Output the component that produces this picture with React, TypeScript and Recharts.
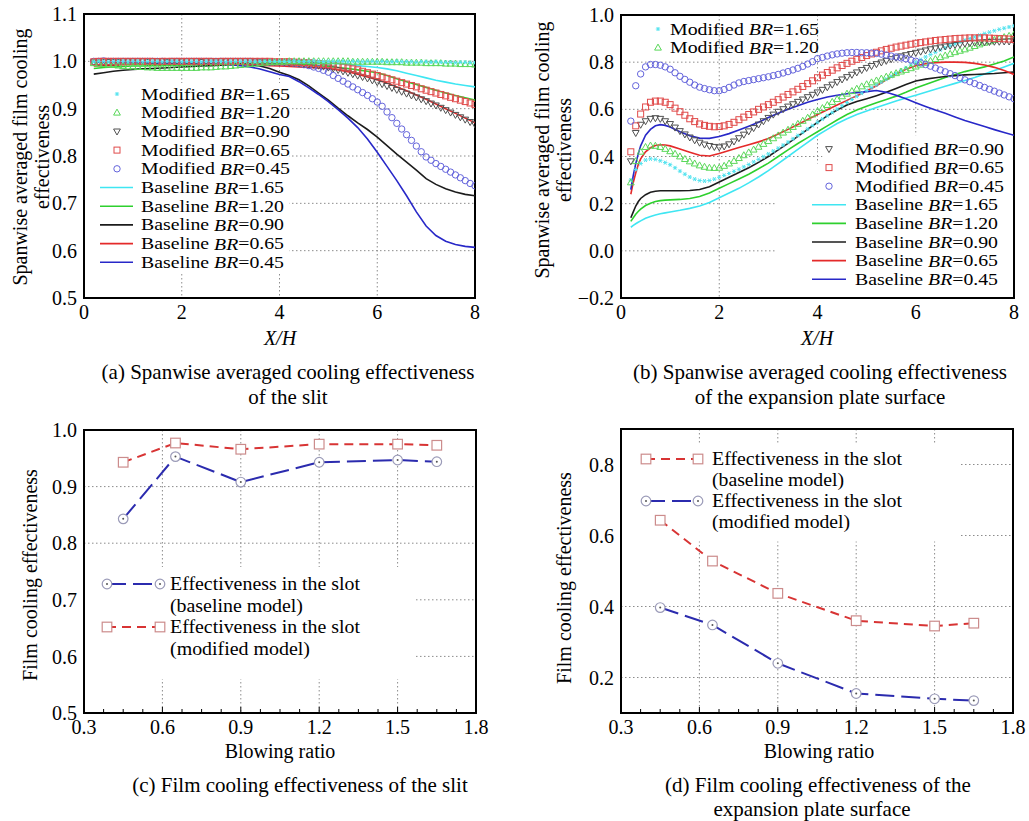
import React from 'react';
import { ComposedChart, Line, XAxis, YAxis, CartesianGrid, ReferenceArea } from 'recharts';

const FONT = '"Liberation Serif", "Times New Roman", serif';

// ---- panels (a) and (b): X/H sample positions
const modX = [
  0.2, 0.3, 0.4, 0.5, 0.6, 0.7, 0.8, 0.9, 1.0,
  1.1, 1.2, 1.3, 1.4, 1.5, 1.6, 1.7, 1.8, 1.9, 2.0,
  2.1, 2.2, 2.3, 2.4, 2.5, 2.6, 2.7, 2.8, 2.9, 3.0,
  3.1, 3.2, 3.3, 3.4, 3.5, 3.6, 3.7, 3.8, 3.9, 4.0,
  4.1, 4.2, 4.3, 4.4, 4.5, 4.6, 4.7, 4.8, 4.9, 5.0,
  5.1, 5.2, 5.3, 5.4, 5.5, 5.6, 5.7, 5.8, 5.9, 6.0,
  6.1, 6.2, 6.3, 6.4, 6.5, 6.6, 6.7, 6.8, 6.9, 7.0,
  7.1, 7.2, 7.3, 7.4, 7.5, 7.6, 7.7, 7.8, 7.9, 8.0,
];
const aLineX = [
  0.2, 0.4, 0.6, 0.8, 1.0, 1.2, 1.4, 1.6, 1.8, 2.0,
  2.2, 2.4, 2.6, 2.8, 3.0, 3.2, 3.4, 3.6, 3.8, 4.0,
  4.2, 4.4, 4.6, 4.8, 5.0, 5.2, 5.4, 5.6, 5.8, 6.0,
  6.2, 6.4, 6.6, 6.8, 7.0, 7.2, 7.4, 7.6, 7.8, 8.0,
];
const bLineX = [
  0.2, 0.25, 0.3, 0.35, 0.4, 0.5, 0.6, 0.7, 0.8, 0.9, 1.0,
  1.2, 1.4, 1.6, 1.8, 2.0, 2.2, 2.4, 2.6, 2.8, 3.0,
  3.2, 3.4, 3.6, 3.8, 4.0, 4.2, 4.4, 4.6, 4.8, 5.0,
  5.2, 5.4, 5.6, 5.8, 6.0, 6.2, 6.4, 6.6, 6.8, 7.0,
  7.2, 7.4, 7.6, 7.8, 8.0,
];

// (a) slit, modified model (markers)
const aMod165 = [
  0.999, 1.0, 1.0, 0.999, 1.0, 1.0, 1.0, 0.999, 1.0,
  1.0, 0.999, 1.0, 1.0, 1.0, 0.999, 1.0, 1.0, 1.0, 0.999,
  1.0, 1.0, 1.0, 0.999, 1.0, 1.0, 1.0, 1.0, 0.999, 1.0,
  1.0, 1.0, 1.0, 1.0, 0.999, 1.0, 1.0, 1.0, 1.0, 1.0,
  1.0, 1.0, 1.001, 1.0, 1.0, 1.0, 1.001, 1.0, 1.0, 1.0,
  1.0, 1.0, 1.0, 0.999, 1.0, 1.0, 0.999, 1.0, 1.0, 0.999,
  1.0, 0.999, 0.999, 1.0, 0.999, 0.999, 0.999, 0.998, 0.999, 0.999,
  0.998, 0.999, 0.998, 0.998, 0.998, 0.997, 0.998, 0.998, 0.997, 0.997,
];
const aMod120 = [
  0.996, 0.995, 0.994, 0.993, 0.992, 0.991, 0.990, 0.989, 0.989,
  0.988, 0.988, 0.987, 0.987, 0.986, 0.986, 0.986, 0.986, 0.986, 0.986,
  0.986, 0.986, 0.986, 0.987, 0.987, 0.987, 0.988, 0.989, 0.989, 0.990,
  0.991, 0.992, 0.993, 0.994, 0.995, 0.996, 0.997, 0.998, 0.998, 0.999,
  0.999, 1.0, 1.0, 1.0, 1.0, 1.0, 1.0, 1.0, 1.0, 1.0,
  1.0, 1.0, 1.0, 1.0, 0.999, 0.999, 0.999, 0.999, 0.999, 0.999,
  0.999, 0.998, 0.998, 0.998, 0.998, 0.997, 0.997, 0.997, 0.997, 0.996,
  0.996, 0.996, 0.996, 0.995, 0.995, 0.995, 0.994, 0.994, 0.994, 0.993,
];
const aMod090 = [
  0.998, 0.998, 0.999, 0.999, 0.999, 0.999, 1.0, 1.0, 1.0,
  1.0, 1.0, 0.999, 1.0, 1.0, 1.0, 0.999, 1.0, 1.0, 1.0,
  1.0, 1.0, 1.0, 0.999, 1.0, 1.0, 1.0, 1.0, 1.0, 1.0,
  1.0, 1.0, 1.0, 1.0, 1.0, 0.999, 0.999, 0.999, 0.998, 0.998,
  0.998, 0.997, 0.997, 0.996, 0.995, 0.994, 0.993, 0.991, 0.989, 0.987,
  0.985, 0.982, 0.979, 0.976, 0.973, 0.970, 0.967, 0.964, 0.960, 0.956,
  0.952, 0.948, 0.944, 0.940, 0.936, 0.932, 0.928, 0.924, 0.920, 0.916,
  0.911, 0.907, 0.902, 0.897, 0.892, 0.887, 0.882, 0.877, 0.872, 0.867,
];
const aMod065 = [
  0.999, 1.0, 1.0, 1.0, 1.0, 1.0, 1.0, 1.0, 1.0,
  1.0, 1.0, 1.0, 1.0, 0.999, 1.0, 1.0, 1.0, 1.0, 1.0,
  1.0, 1.0, 1.0, 1.0, 1.0, 1.0, 0.999, 1.0, 1.0, 1.0,
  1.0, 1.0, 1.0, 1.0, 1.0, 1.0, 1.0, 1.0, 0.999, 0.999,
  0.999, 0.999, 0.998, 0.998, 0.997, 0.997, 0.996, 0.995, 0.994, 0.993,
  0.992, 0.990, 0.988, 0.986, 0.984, 0.982, 0.979, 0.976, 0.973, 0.970,
  0.967, 0.964, 0.961, 0.958, 0.955, 0.952, 0.949, 0.946, 0.942, 0.939,
  0.936, 0.933, 0.930, 0.927, 0.924, 0.921, 0.918, 0.915, 0.912, 0.909,
];
const aMod045 = [
  1.0, 1.0, 1.001, 1.0, 1.0, 1.0, 1.0, 1.0, 1.0,
  1.0, 1.0, 1.0, 1.0, 1.0, 1.0, 0.999, 1.0, 1.0, 1.0,
  1.0, 1.0, 1.0, 1.0, 1.0, 1.0, 1.0, 1.0, 1.0, 1.0,
  1.0, 1.0, 1.0, 1.0, 0.999, 0.999, 0.999, 0.998, 0.998, 0.998,
  0.997, 0.997, 0.996, 0.995, 0.993, 0.991, 0.988, 0.985, 0.981, 0.977,
  0.970, 0.964, 0.958, 0.952, 0.946, 0.940, 0.934, 0.928, 0.921, 0.914,
  0.905, 0.893, 0.881, 0.869, 0.857, 0.845, 0.833, 0.821, 0.809, 0.798,
  0.791, 0.784, 0.778, 0.772, 0.766, 0.760, 0.754, 0.748, 0.742, 0.737,
];
// (a) slit, baseline model (lines)
const aBase165 = [
  0.998, 0.998, 0.997, 0.997, 0.997, 0.998, 0.998, 0.998, 0.998, 0.998,
  0.998, 0.999, 0.999, 0.999, 0.999, 0.999, 0.999, 0.999, 0.999, 0.999,
  0.999, 0.998, 0.998, 0.997, 0.996, 0.995, 0.993, 0.991, 0.989, 0.987,
  0.984, 0.980, 0.975, 0.970, 0.965, 0.960, 0.956, 0.952, 0.949, 0.946,
];
const aBase120 = [
  0.985, 0.987, 0.988, 0.989, 0.990, 0.990, 0.991, 0.991, 0.992, 0.992,
  0.993, 0.993, 0.994, 0.994, 0.995, 0.995, 0.996, 0.996, 0.996, 0.996,
  0.995, 0.994, 0.993, 0.991, 0.989, 0.987, 0.985, 0.982, 0.979, 0.976,
  0.970, 0.963, 0.957, 0.951, 0.945, 0.939, 0.933, 0.928, 0.923, 0.918,
];
const aBase090 = [
  0.973, 0.976, 0.979, 0.981, 0.983, 0.984, 0.985, 0.986, 0.987, 0.988,
  0.989, 0.990, 0.991, 0.992, 0.993, 0.994, 0.993, 0.990, 0.985, 0.977,
  0.970, 0.961, 0.948, 0.933, 0.918, 0.901, 0.885, 0.870, 0.856, 0.840,
  0.822, 0.804, 0.787, 0.770, 0.752, 0.740, 0.731, 0.724, 0.719, 0.716,
];
const aBase065 = [
  0.990, 0.991, 0.992, 0.993, 0.994, 0.994, 0.995, 0.995, 0.995, 0.995,
  0.995, 0.995, 0.995, 0.995, 0.995, 0.994, 0.993, 0.992, 0.991, 0.990,
  0.989, 0.988, 0.987, 0.986, 0.985, 0.982, 0.978, 0.973, 0.967, 0.961,
  0.954, 0.946, 0.938, 0.929, 0.920, 0.910, 0.900, 0.890, 0.880, 0.870,
];
const aBase045 = [
  0.998, 0.998, 0.998, 0.997, 0.997, 0.997, 0.996, 0.996, 0.996, 0.995,
  0.995, 0.995, 0.994, 0.994, 0.993, 0.991, 0.988, 0.984, 0.978, 0.972,
  0.968, 0.957, 0.944, 0.930, 0.915, 0.898, 0.880, 0.860, 0.836, 0.808,
  0.778, 0.748, 0.716, 0.682, 0.652, 0.632, 0.620, 0.613, 0.609, 0.607,
];

// (b) expansion plate surface, modified model (markers)
const bMod165 = [
  0.300, 0.345, 0.370, 0.385, 0.390, 0.388, 0.382, 0.374, 0.365,
  0.352, 0.338, 0.325, 0.313, 0.304, 0.298, 0.296, 0.298, 0.304, 0.312,
  0.320, 0.328, 0.337, 0.346, 0.356, 0.366, 0.377, 0.388, 0.399, 0.411,
  0.423, 0.435, 0.448, 0.461, 0.475, 0.489, 0.503, 0.517, 0.531, 0.545,
  0.559, 0.573, 0.587, 0.601, 0.615, 0.629, 0.642, 0.655, 0.668, 0.680,
  0.692, 0.704, 0.716, 0.728, 0.740, 0.752, 0.764, 0.776, 0.788, 0.800,
  0.811, 0.822, 0.832, 0.842, 0.852, 0.861, 0.870, 0.878, 0.886, 0.893,
  0.900, 0.907, 0.914, 0.921, 0.927, 0.933, 0.939, 0.944, 0.949, 0.954,
];
const bMod120 = [
  0.290, 0.380, 0.420, 0.440, 0.446, 0.445, 0.440, 0.432, 0.422,
  0.411, 0.400, 0.389, 0.379, 0.370, 0.362, 0.356, 0.352, 0.351, 0.352,
  0.360, 0.370, 0.381, 0.393, 0.405, 0.417, 0.429, 0.441, 0.453, 0.465,
  0.477, 0.489, 0.501, 0.513, 0.525, 0.538, 0.551, 0.564, 0.578, 0.592,
  0.605, 0.618, 0.631, 0.643, 0.655, 0.666, 0.677, 0.687, 0.697, 0.706,
  0.714, 0.722, 0.730, 0.738, 0.746, 0.753, 0.760, 0.767, 0.774, 0.781,
  0.789, 0.797, 0.805, 0.813, 0.821, 0.828, 0.835, 0.842, 0.848, 0.854,
  0.861, 0.868, 0.875, 0.882, 0.888, 0.894, 0.900, 0.906, 0.911, 0.917,
];
const bMod090 = [
  0.380, 0.500, 0.535, 0.550, 0.560, 0.563, 0.560, 0.550, 0.538,
  0.523, 0.508, 0.494, 0.481, 0.469, 0.459, 0.451, 0.445, 0.441, 0.439,
  0.443, 0.452, 0.464, 0.478, 0.493, 0.507, 0.521, 0.536, 0.550, 0.564,
  0.578, 0.590, 0.601, 0.612, 0.622, 0.632, 0.642, 0.652, 0.662, 0.672,
  0.683, 0.694, 0.705, 0.716, 0.727, 0.737, 0.747, 0.757, 0.767, 0.776,
  0.784, 0.792, 0.799, 0.806, 0.813, 0.819, 0.825, 0.830, 0.835, 0.840,
  0.845, 0.850, 0.855, 0.859, 0.863, 0.867, 0.870, 0.873, 0.876, 0.879,
  0.881, 0.883, 0.884, 0.885, 0.886, 0.887, 0.887, 0.888, 0.888, 0.889,
];
const bMod065 = [
  0.420, 0.530, 0.580, 0.610, 0.630, 0.635, 0.635, 0.630, 0.620,
  0.605, 0.590, 0.575, 0.560, 0.548, 0.538, 0.532, 0.528, 0.526, 0.527,
  0.530, 0.536, 0.545, 0.556, 0.567, 0.578, 0.589, 0.600, 0.610, 0.620,
  0.630, 0.641, 0.652, 0.663, 0.674, 0.685, 0.697, 0.709, 0.721, 0.734,
  0.745, 0.756, 0.766, 0.776, 0.786, 0.795, 0.804, 0.812, 0.820, 0.828,
  0.835, 0.842, 0.848, 0.854, 0.859, 0.864, 0.868, 0.872, 0.876, 0.880,
  0.883, 0.886, 0.889, 0.892, 0.894, 0.896, 0.898, 0.900, 0.901, 0.902,
  0.903, 0.903, 0.903, 0.903, 0.902, 0.901, 0.900, 0.899, 0.898, 0.896,
];
const bMod045 = [
  0.550, 0.700, 0.750, 0.780, 0.790, 0.790, 0.787, 0.780, 0.770,
  0.755, 0.740, 0.727, 0.715, 0.703, 0.694, 0.688, 0.683, 0.679, 0.679,
  0.684, 0.693, 0.703, 0.712, 0.718, 0.722, 0.726, 0.730, 0.734, 0.738,
  0.743, 0.748, 0.754, 0.760, 0.767, 0.774, 0.782, 0.792, 0.802, 0.815,
  0.820, 0.826, 0.831, 0.835, 0.838, 0.840, 0.841, 0.841, 0.840, 0.840,
  0.839, 0.837, 0.834, 0.830, 0.826, 0.822, 0.818, 0.814, 0.809, 0.804,
  0.797, 0.790, 0.783, 0.775, 0.767, 0.759, 0.751, 0.743, 0.734, 0.725,
  0.717, 0.709, 0.701, 0.693, 0.685, 0.677, 0.669, 0.661, 0.653, 0.645,
];
// (b) expansion plate surface, baseline model (lines)
const bBase165 = [
  0.100, 0.108, 0.115, 0.121, 0.127, 0.138, 0.146, 0.152, 0.157, 0.161, 0.165,
  0.172, 0.180, 0.190, 0.205, 0.225, 0.245, 0.265, 0.288, 0.313, 0.340,
  0.370, 0.400, 0.430, 0.460, 0.490, 0.515, 0.540, 0.560, 0.578, 0.593,
  0.608, 0.622, 0.635, 0.648, 0.660, 0.672, 0.685, 0.698, 0.710, 0.722,
  0.735, 0.750, 0.765, 0.780, 0.795,
];
const bBase120 = [
  0.125, 0.140, 0.155, 0.167, 0.177, 0.192, 0.202, 0.209, 0.213, 0.215, 0.216,
  0.218, 0.222, 0.230, 0.245, 0.265, 0.285, 0.305, 0.325, 0.348, 0.372,
  0.400, 0.428, 0.455, 0.480, 0.505, 0.530, 0.555, 0.578, 0.597, 0.613,
  0.628, 0.642, 0.656, 0.672, 0.690, 0.705, 0.720, 0.735, 0.748, 0.760,
  0.770, 0.780, 0.792, 0.805, 0.822,
];
const bBase090 = [
  0.140, 0.165, 0.190, 0.208, 0.222, 0.238, 0.248, 0.253, 0.255, 0.255, 0.255,
  0.255, 0.256, 0.260, 0.272, 0.292, 0.312, 0.332, 0.352, 0.375, 0.400,
  0.428, 0.456, 0.485, 0.515, 0.545, 0.572, 0.597, 0.618, 0.633, 0.645,
  0.658, 0.672, 0.688, 0.705, 0.720, 0.728, 0.734, 0.739, 0.743, 0.746,
  0.748, 0.750, 0.752, 0.755, 0.758,
];
const bBase065 = [
  0.240, 0.290, 0.330, 0.365, 0.390, 0.420, 0.437, 0.447, 0.450, 0.449, 0.445,
  0.432, 0.418, 0.405, 0.402, 0.413, 0.425, 0.438, 0.450, 0.462, 0.476,
  0.495, 0.515, 0.536, 0.557, 0.578, 0.598, 0.618, 0.638, 0.658, 0.678,
  0.700, 0.725, 0.750, 0.770, 0.785, 0.793, 0.798, 0.800, 0.800, 0.799,
  0.795, 0.788, 0.778, 0.765, 0.748,
];
const bBase045 = [
  0.260, 0.320, 0.370, 0.410, 0.445, 0.490, 0.515, 0.530, 0.535, 0.532, 0.525,
  0.505, 0.488, 0.478, 0.477, 0.485, 0.497, 0.512, 0.528, 0.545, 0.565,
  0.583, 0.600, 0.615, 0.630, 0.642, 0.652, 0.660, 0.666, 0.671, 0.675,
  0.680, 0.672, 0.660, 0.645, 0.628, 0.612, 0.597, 0.583, 0.568, 0.553,
  0.540, 0.527, 0.514, 0.502, 0.490,
];

// ---- panels (c) and (d): blowing ratio
const blowingRatio = [0.45, 0.65, 0.9, 1.2, 1.5, 1.65];
const cBaseline = [0.843, 0.953, 0.908, 0.943, 0.947, 0.944];
const cModified = [0.943, 0.977, 0.966, 0.975, 0.975, 0.973];
const dBaseline = [0.643, 0.528, 0.437, 0.36, 0.345, 0.353];
const dModified = [0.397, 0.348, 0.24, 0.155, 0.14, 0.135];

const brTicks = [0.3, 0.6, 0.9, 1.2, 1.5, 1.8];
const brMinor = [0.375, 0.45, 0.525, 0.675, 0.75, 0.825, 0.975, 1.05, 1.125, 1.275, 1.35, 1.425, 1.575, 1.65, 1.725];

const COL = {
  cyan: '#3fe6f2',
  green: '#2ed02e',
  black: '#1c1c1c',
  red: '#e42a2a',
  blue: '#2828c8',
  mCyan: '#52e3ef',
  mGreen: '#5ad85a',
  mBlack: '#505050',
  mRed: '#e04a4a',
  mBlue: '#6464dc',
  cBlue: '#2b2bae',
  cRed: '#d83434',
  cCircle: '#9b9bb8',
  cSquare: '#cc8c8c',
};

const zip = (xs: number[], ys: number[]) => xs.map((x, i) => ({ x, y: ys[i] }));

function Marker({ kind, cx, cy, color }: { kind: string; cx: number; cy: number; color: string }) {
  if (cx == null || cy == null || isNaN(cx) || isNaN(cy)) return null;
  switch (kind) {
    case 'star':
      return (
        <g stroke={color} strokeWidth={1}>
          <line x1={cx - 2.2} y1={cy} x2={cx + 2.2} y2={cy} />
          <line x1={cx - 1.2} y1={cy - 2} x2={cx + 1.2} y2={cy + 2} />
          <line x1={cx - 1.2} y1={cy + 2} x2={cx + 1.2} y2={cy - 2} />
        </g>
      );
    case 'tri':
      return <polygon points={`${cx},${cy - 3.6} ${cx - 3.4},${cy + 2.4} ${cx + 3.4},${cy + 2.4}`} fill="none" stroke={color} strokeWidth={1} />;
    case 'dtri':
      return <polygon points={`${cx},${cy + 3.6} ${cx - 3.4},${cy - 2.4} ${cx + 3.4},${cy - 2.4}`} fill="none" stroke={color} strokeWidth={1} />;
    case 'square':
      return <rect x={cx - 3} y={cy - 3} width={6} height={6} fill="none" stroke={color} strokeWidth={1} />;
    case 'circle':
      return <circle cx={cx} cy={cy} r={3.2} fill="none" stroke={color} strokeWidth={1} />;
    case 'circdot':
      return (
        <g>
          <circle cx={cx} cy={cy} r={4.8} fill="#fff" stroke={color} strokeWidth={1.2} />
          <circle cx={cx} cy={cy} r={1} fill="#555" />
        </g>
      );
    case 'bigsquare':
      return <rect x={cx - 4.8} y={cy - 4.8} width={9.6} height={9.6} fill="#fff" stroke={color} strokeWidth={1.2} />;
    default:
      return null;
  }
}

const dotOf = (kind: string, color: string) => (p: any) => (
  <Marker key={`d${p.index}`} kind={kind} color={color} cx={p.cx} cy={p.cy} />
);

type LineSpec = { data: { x: number; y: number }[]; color: string; dash?: string; width?: number; marker?: string; markerColor?: string; noLine?: boolean };
type Box = [number, number, number, number];

const tickStyle = { fill: '#000', fontSize: 20, fontFamily: FONT };

function Panel(props: {
  left: number; top: number; width: number; height: number;
  margin: { top: number; right: number; left: number; bottom: number };
  yWidth: number; xHeight: number;
  xDomain: [number, number]; xTicks: number[]; xMinor?: number[];
  yDomain: [number, number]; yTicks: number[];
  xFmt: (v: number) => string; yFmt: (v: number) => string;
  series: LineSpec[]; boxes: Box[];
}) {
  const { left, top, width, height, margin, yWidth, xHeight, xDomain, xTicks, xMinor, yDomain, yTicks, xFmt, yFmt, series, boxes } = props;
  const allX = xMinor ? [...xTicks, ...xMinor].sort((a, b) => a - b) : xTicks;
  const xTick = (p: any) => {
    const v = p.payload.value;
    const major = xTicks.some((m) => Math.abs(m - v) < 1e-6);
    const axisY = p.y - 7;
    return (
      <g>
        {xMinor && <line x1={p.x} x2={p.x} y1={axisY} y2={axisY - (major ? 6 : 4)} stroke="#000" strokeWidth={1} />}
        {major && (
          <text x={p.x} y={p.y} dy="0.71em" textAnchor="middle" {...tickStyle}>
            {xFmt(v)}
          </text>
        )}
      </g>
    );
  };
  return (
    <div style={{ position: 'absolute', left, top }}>
      <ComposedChart width={width} height={height} margin={margin}>
        <CartesianGrid stroke="#8c8c8c" strokeDasharray="1.5 2.5" strokeWidth={1} verticalValues={xTicks} horizontalValues={yTicks} />
        {boxes.map((b, i) => (
          <ReferenceArea key={`box${i}`} x1={b[0]} x2={b[1]} y1={b[2]} y2={b[3]} fill="#fff" fillOpacity={1} stroke="none" />
        ))}
        <XAxis
          type="number"
          dataKey="x"
          domain={xDomain}
          ticks={allX}
          allowDataOverflow
          interval={0}
          axisLine={false}
          tickLine={false}
          tickSize={4}
          tickMargin={3}
          height={xHeight}
          tick={xTick}
        />
        <YAxis
          type="number"
          domain={yDomain}
          ticks={yTicks}
          allowDataOverflow
          interval={0}
          axisLine={false}
          tickLine={false}
          tickSize={4}
          tickMargin={3}
          width={yWidth}
          tick={tickStyle}
          tickFormatter={yFmt}
        />
        {series.map((s, i) => (
          <Line
            key={`s${i}`}
            data={s.data}
            dataKey="y"
            type="linear"
            stroke={s.noLine ? 'none' : s.color}
            strokeWidth={s.width ?? 1.6}
            strokeDasharray={s.dash}
            dot={s.marker ? dotOf(s.marker, s.markerColor ?? s.color) : false}
            activeDot={false}
            isAnimationActive={false}
          />
        ))}
        <ReferenceArea x1={xDomain[0]} x2={xDomain[1]} y1={yDomain[0]} y2={yDomain[1]} fill="none" stroke="#000" strokeWidth={2} />
      </ComposedChart>
    </div>
  );
}

const fmt1 = (v: number) => (v < 0 ? '\u2212' : '') + Math.abs(v).toFixed(1);
const fmt0 = (v: number) => String(v);

const aSeries: LineSpec[] = [
  { data: zip(aLineX, aBase165), color: COL.cyan },
  { data: zip(aLineX, aBase120), color: COL.green },
  { data: zip(aLineX, aBase065), color: COL.red },
  { data: zip(aLineX, aBase090), color: COL.black },
  { data: zip(aLineX, aBase045), color: COL.blue },
  { data: zip(modX, aMod045), color: COL.mBlue, marker: 'circle', noLine: true },
  { data: zip(modX, aMod090), color: COL.mBlack, marker: 'dtri', noLine: true },
  { data: zip(modX, aMod065), color: COL.mRed, marker: 'square', noLine: true },
  { data: zip(modX, aMod120), color: COL.mGreen, marker: 'tri', noLine: true },
  { data: zip(modX, aMod165), color: COL.mCyan, marker: 'star', noLine: true },
];
const bSeries: LineSpec[] = [
  { data: zip(bLineX, bBase165), color: COL.cyan },
  { data: zip(bLineX, bBase120), color: COL.green },
  { data: zip(bLineX, bBase090), color: COL.black },
  { data: zip(bLineX, bBase065), color: COL.red },
  { data: zip(bLineX, bBase045), color: COL.blue },
  { data: zip(modX, bMod165), color: COL.mCyan, marker: 'star', noLine: true },
  { data: zip(modX, bMod120), color: COL.mGreen, marker: 'tri', noLine: true },
  { data: zip(modX, bMod090), color: COL.mBlack, marker: 'dtri', noLine: true },
  { data: zip(modX, bMod065), color: COL.mRed, marker: 'square', noLine: true },
  { data: zip(modX, bMod045), color: COL.mBlue, marker: 'circle', noLine: true },
];
const cSeries: LineSpec[] = [
  { data: zip(blowingRatio, cModified), color: COL.cRed, dash: '9 6', width: 2, marker: 'bigsquare', markerColor: COL.cSquare },
  { data: zip(blowingRatio, cBaseline), color: COL.cBlue, dash: '19 7', width: 2, marker: 'circdot', markerColor: COL.cCircle },
];
const dSeries: LineSpec[] = [
  { data: zip(blowingRatio, dBaseline), color: COL.cRed, dash: '9 6', width: 2, marker: 'bigsquare', markerColor: COL.cSquare },
  { data: zip(blowingRatio, dModified), color: COL.cBlue, dash: '19 7', width: 2, marker: 'circdot', markerColor: COL.cCircle },
];

const T = { fontFamily: FONT, fontSize: 20, fill: '#000' };
const CAP = { fontFamily: FONT, fontSize: 21, fill: '#000' };

// legend entries in (a)/(b) are wide and tightly stacked in the original
function BRLabel({ x, y, prefix, value }: { x: number; y: number; prefix: string; value: string }) {
  return (
    <text
      x={x}
      y={y}
      dominantBaseline="central"
      fontFamily={FONT}
      fontSize={16.5}
      fill="#000"
      textLength={prefix === 'Modified' ? 149 : 143}
      lengthAdjust="spacingAndGlyphs"
    >
      {prefix} <tspan fontStyle="italic">BR</tspan>={value}
    </text>
  );
}

function LegendA() {
  const rows = [
    { p: 'Modified', v: '1.65', m: 'star', c: COL.mCyan },
    { p: 'Modified', v: '1.20', m: 'tri', c: COL.mGreen },
    { p: 'Modified', v: '0.90', m: 'dtri', c: COL.mBlack },
    { p: 'Modified', v: '0.65', m: 'square', c: COL.mRed },
    { p: 'Modified', v: '0.45', m: 'circle', c: COL.mBlue },
    { p: 'Baseline', v: '1.65', c: COL.cyan },
    { p: 'Baseline', v: '1.20', c: COL.green },
    { p: 'Baseline', v: '0.90', c: COL.black },
    { p: 'Baseline', v: '0.65', c: COL.red },
    { p: 'Baseline', v: '0.45', c: COL.blue },
  ];
  return (
    <g>
      {rows.map((r, i) => {
        const y = 94 + i * 18.7;
        return (
          <g key={i}>
            {r.m ? <Marker kind={r.m} cx={117} cy={y} color={r.c} /> : <line x1={100} x2={133} y1={y} y2={y} stroke={r.c} strokeWidth={1.6} />}
            <BRLabel x={141} y={y} prefix={r.p} value={r.v} />
          </g>
        );
      })}
    </g>
  );
}

function LegendB() {
  const top = [
    { v: '1.65', m: 'star', c: COL.mCyan },
    { v: '1.20', m: 'tri', c: COL.mGreen },
  ];
  const rows = [
    { p: 'Modified', v: '0.90', m: 'dtri', c: COL.mBlack },
    { p: 'Modified', v: '0.65', m: 'square', c: COL.mRed },
    { p: 'Modified', v: '0.45', m: 'circle', c: COL.mBlue },
    { p: 'Baseline', v: '1.65', c: COL.cyan },
    { p: 'Baseline', v: '1.20', c: COL.green },
    { p: 'Baseline', v: '0.90', c: COL.black },
    { p: 'Baseline', v: '0.65', c: COL.red },
    { p: 'Baseline', v: '0.45', c: COL.blue },
  ];
  return (
    <g>
      {top.map((r, i) => {
        const y = 29 + i * 18.7;
        return (
          <g key={`t${i}`}>
            <Marker kind={r.m} cx={658} cy={y} color={r.c} />
            <BRLabel x={670} y={y} prefix="Modified" value={r.v} />
          </g>
        );
      })}
      {rows.map((r, i) => {
        const y = 149 + i * 18.6;
        return (
          <g key={`r${i}`}>
            {r.m ? <Marker kind={r.m} cx={829} cy={y} color={r.c} /> : <line x1={812} x2={846} y1={y} y2={y} stroke={r.c} strokeWidth={1.6} />}
            <BRLabel x={855} y={y} prefix={r.p} value={r.v} />
          </g>
        );
      })}
    </g>
  );
}

type SlotRow = { y: number; sy: number; sub: string; subLen: number; color: string; dash: string; marker: string; mc: string };

function SlotLegend({ x1, x2, tx, rows }: { x1: number; x2: number; tx: number; rows: SlotRow[] }) {
  const S = { fontFamily: FONT, fontSize: 18, fill: '#000' };
  return (
    <g>
      {rows.map((r, i) => (
        <g key={i}>
          <line x1={x1} x2={x2} y1={r.y} y2={r.y} stroke={r.color} strokeWidth={2} strokeDasharray={r.dash} />
          <Marker kind={r.marker} cx={x1} cy={r.y} color={r.mc} />
          <Marker kind={r.marker} cx={x2} cy={r.y} color={r.mc} />
          <text x={tx} y={r.y} dominantBaseline="central" textLength={190} lengthAdjust="spacingAndGlyphs" {...S}>
            Effectiveness in the slot
          </text>
          <text x={tx} y={r.sy} dominantBaseline="central" textLength={r.subLen} lengthAdjust="spacingAndGlyphs" {...S}>
            {r.sub}
          </text>
        </g>
      ))}
    </g>
  );
}

export default function App() {
  return (
    <div style={{ position: 'absolute', left: 0, top: 0, width: 1029, height: 821, background: '#fff', fontFamily: FONT, overflow: 'hidden' }}>
      <Panel
        left={0} top={0} width={490} height={345}
        margin={{ top: 14, right: 15, left: 0, bottom: 0 }}
        yWidth={84} xHeight={47}
        xDomain={[0, 8]} xTicks={[0, 2, 4, 6, 8]}
        yDomain={[0.5, 1.1]} yTicks={[0.5, 0.6, 0.7, 0.8, 0.9, 1.0, 1.1]}
        xFmt={fmt0} yFmt={fmt1}
        series={aSeries}
        boxes={[[0, 4.2, 0.555, 0.954]]}
      />
      <Panel
        left={530} top={0} width={499} height={345}
        margin={{ top: 15, right: 15, left: 0, bottom: 0 }}
        yWidth={91} xHeight={47}
        xDomain={[0, 8]} xTicks={[0, 2, 4, 6, 8]}
        yDomain={[-0.2, 1.0]} yTicks={[-0.2, 0, 0.2, 0.4, 0.6, 0.8, 1.0]}
        xFmt={fmt0} yFmt={fmt1}
        series={bSeries}
        boxes={[[3.15, 8, -0.2, 0.37], [4.1, 8, 0.37, 0.49]]}
      />
      <Panel
        left={0} top={400} width={490} height={360}
        margin={{ top: 30, right: 14, left: 0, bottom: 0 }}
        yWidth={84} xHeight={47}
        xDomain={[0.3, 1.8]} xTicks={brTicks} xMinor={brMinor}
        yDomain={[0.5, 1.0]} yTicks={[0.5, 0.6, 0.7, 0.8, 0.9, 1.0]}
        xFmt={fmt1} yFmt={fmt1}
        series={cSeries}
        boxes={[[0.3, 1.57, 0.56, 0.758]]}
      />
      <Panel
        left={530} top={400} width={499} height={360}
        margin={{ top: 29, right: 16, left: 0, bottom: 0 }}
        yWidth={91} xHeight={47}
        xDomain={[0.3, 1.8]} xTicks={brTicks} xMinor={brMinor}
        yDomain={[0.1, 0.9]} yTicks={[0.2, 0.4, 0.6, 0.8]}
        xFmt={fmt1} yFmt={fmt1}
        series={dSeries}
        boxes={[[0.3, 1.6, 0.583, 0.859]]}
      />
      <svg width={1029} height={821} style={{ position: 'absolute', left: 0, top: 0, pointerEvents: 'none' }}>
        {/* y-axis titles */}
        <text transform="translate(20,157) rotate(-90)" textAnchor="middle" dominantBaseline="central" {...T}>Spanwise averaged film cooling</text>
        <text transform="translate(42,157) rotate(-90)" textAnchor="middle" dominantBaseline="central" {...T}>effectiveness</text>
        <text transform="translate(542,150) rotate(-90)" textAnchor="middle" dominantBaseline="central" {...T}>Spanwise averaged film cooling</text>
        <text transform="translate(564,150) rotate(-90)" textAnchor="middle" dominantBaseline="central" {...T}>effectiveness</text>
        <text transform="translate(30,575) rotate(-90)" textAnchor="middle" dominantBaseline="central" {...T}>Film cooling effectiveness</text>
        <text transform="translate(564,578) rotate(-90)" textAnchor="middle" dominantBaseline="central" {...T}>Film cooling effectiveness</text>
        {/* x-axis titles */}
        <text x={280} y={338} textAnchor="middle" dominantBaseline="central" fontStyle="italic" {...T}>X/H</text>
        <text x={817} y={338} textAnchor="middle" dominantBaseline="central" fontStyle="italic" {...T}>X/H</text>
        <text x={280} y={751} textAnchor="middle" dominantBaseline="central" {...T}>Blowing ratio</text>
        <text x={819} y={751} textAnchor="middle" dominantBaseline="central" {...T}>Blowing ratio</text>
        {/* captions */}
        <text x={288} y={372} textAnchor="middle" dominantBaseline="central" {...CAP}>(a) Spanwise averaged cooling effectiveness</text>
        <text x={288} y={397} textAnchor="middle" dominantBaseline="central" {...CAP}>of the slit</text>
        <text x={820} y={372} textAnchor="middle" dominantBaseline="central" {...CAP}>(b) Spanwise averaged cooling effectiveness</text>
        <text x={820} y={397} textAnchor="middle" dominantBaseline="central" {...CAP}>of the expansion plate surface</text>
        <text x={300} y={785} textAnchor="middle" dominantBaseline="central" {...CAP}>(c) Film cooling effectiveness of the slit</text>
        <text x={818} y={785} textAnchor="middle" dominantBaseline="central" {...CAP}>(d) Film cooling effectiveness of the</text>
        <text x={812} y={809} textAnchor="middle" dominantBaseline="central" {...CAP}>expansion plate surface</text>
        <LegendA />
        <LegendB />
        <SlotLegend
          x1={107} x2={160} tx={170}
          rows={[
            { y: 584, sy: 606, sub: '(baseline model)', subLen: 133, color: COL.cBlue, dash: '19 7', marker: 'circdot', mc: COL.cCircle },
            { y: 627, sy: 649, sub: '(modified model)', subLen: 140, color: COL.cRed, dash: '9 6', marker: 'bigsquare', mc: COL.cSquare },
          ]}
        />
        <SlotLegend
          x1={646} x2={698} tx={712}
          rows={[
            { y: 459, sy: 480, sub: '(baseline model)', subLen: 132, color: COL.cRed, dash: '9 6', marker: 'bigsquare', mc: COL.cSquare },
            { y: 501, sy: 522, sub: '(modified model)', subLen: 138, color: COL.cBlue, dash: '19 7', marker: 'circdot', mc: COL.cCircle },
          ]}
        />
      </svg>
    </div>
  );
}
